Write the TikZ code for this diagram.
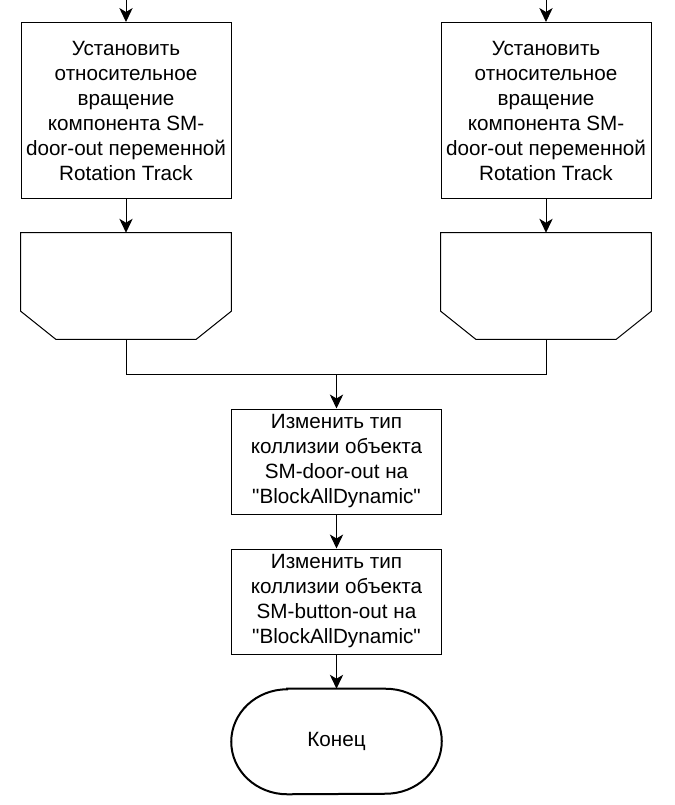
\documentclass[tikz,border=0pt]{standalone}
\usepackage{fontspec}
\setmainfont{Liberation Sans}[Ligatures=TeXOff]
\usetikzlibrary{arrows.meta,calc,positioning}
\tikzset{
  block/.style={draw,line width=0.75pt,minimum width=157.5pt,inner sep=0pt,
    align=center,font=\fontsize{15.5}{18.75}\selectfont},
  loopend/.style={minimum width=157.5pt,minimum height=79.5pt,inner sep=0pt},
  termbox/.style={minimum width=157.5pt,minimum height=78.75pt,inner sep=0pt,
    font=\fontsize{15.5}{18.75}\selectfont},
  conn/.style={line width=0.75pt,-{Stealth[length=10.5pt,width=10pt,inset=3pt]}},
  wire/.style={line width=0.75pt}
}
\begin{document}
\begin{tikzpicture}[x=0.75pt,y=-0.75pt]
  \useasboundingbox (0,0) rectangle (674,805);
  \coordinate (inL) at (126,-2);
  \coordinate (inR) at (546,-2);
  % rotation blocks
  \node[block,minimum height=132pt] (rotL) at (126,110.5)
    {Установить\\относительное\\вращение\\компонента SM-\\door-out переменной\\Rotation Track};
  \node[block,minimum height=132pt] (rotR) at (546,110.5)
    {Установить\\относительное\\вращение\\компонента SM-\\door-out переменной\\Rotation Track};
  \draw[conn](inL)--(rotL);
  \draw[conn](inR)--(rotR);
  % loop ends
  \node[loopend] (endL) at (126,286) {};
  \node[loopend] (endR) at (546,286) {};
  \draw[wire](endL.north west)--(endL.north east)--($(endL.south east)+(0,-28)$)
    --($(endL.south east)+(-35,0)$)--($(endL.south west)+(35,0)$)
    --($(endL.south west)+(0,-28)$)--cycle;
  \draw[wire](endR.north west)--(endR.north east)--($(endR.south east)+(0,-28)$)
    --($(endR.south east)+(-35,0)$)--($(endR.south west)+(35,0)$)
    --($(endR.south west)+(0,-28)$)--cycle;
  \draw[conn](rotL)--(endL);
  \draw[conn](rotR)--(endR);
  % merge
  \coordinate (join) at (336.5,374);
  \draw[wire](endL.south)|-(join);
  \draw[wire](endR.south)|-(join);
  % collision blocks
  \node[block,minimum height=78.75pt] (collA) at (336.5,461.5)
    {Изменить тип\\коллизии объекта\\SM-door-out на\\"BlockAllDynamic"};
  \node[block,minimum height=78.75pt] (collB) at (336.5,601.5)
    {Изменить тип\\коллизии объекта\\SM-button-out на\\"BlockAllDynamic"};
  \node[termbox] (fin) at (336.5,741.5) {Конец};
  \draw[line width=1.5pt]($(fin.north west)+(56,0)$)--($(fin.north east)+(-56,0)$)
    arc[start angle=90,end angle=-90,x radius=42pt,y radius=39.375pt]
    --($(fin.south west)+(56,0)$)
    arc[start angle=270,end angle=90,x radius=42pt,y radius=39.375pt]--cycle;
  \draw[conn](join)--(collA);
  \draw[conn](collA)--(collB);
  \draw[conn](collB)--(fin);
\end{tikzpicture}
\end{document}
